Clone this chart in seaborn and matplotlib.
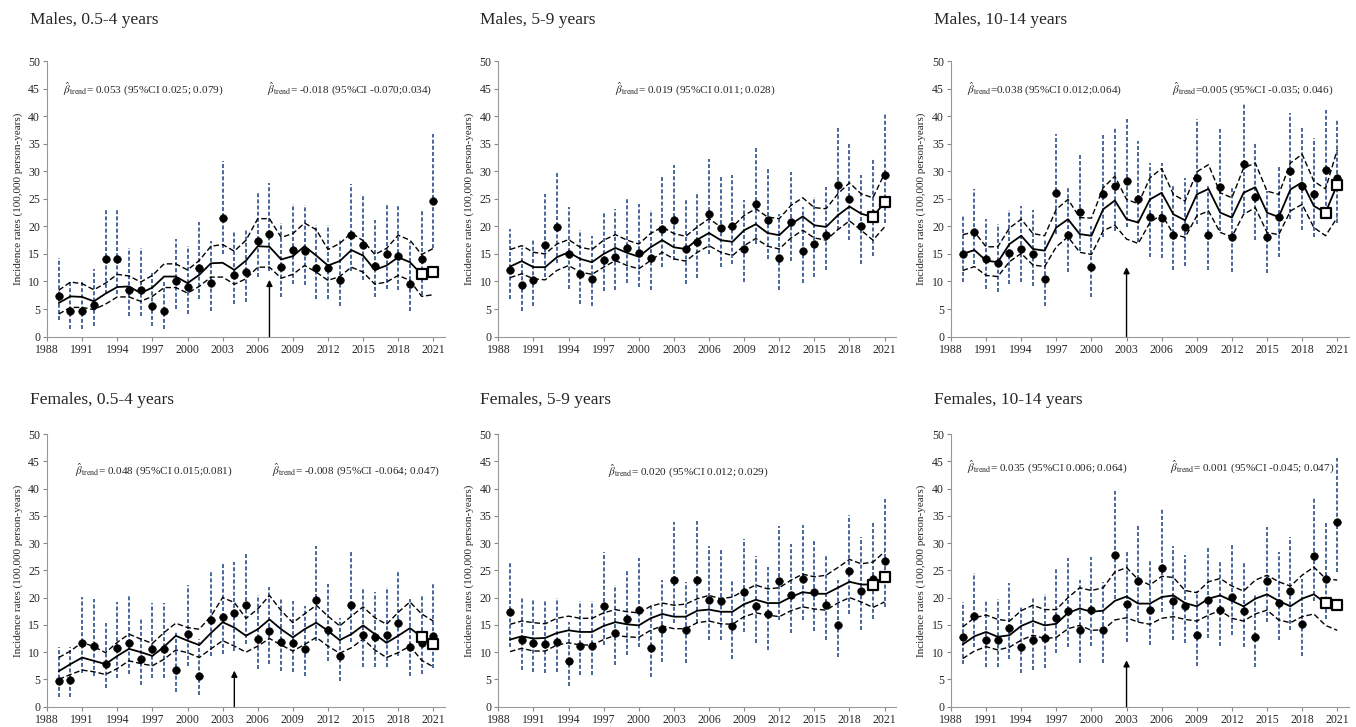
import numpy as np
import pandas as pd
import seaborn as sns
import matplotlib
matplotlib.use("Agg")
import matplotlib.pyplot as plt

years = list(range(1989, 2022))
xticks = list(range(1988, 2022, 3))

# ---- Males 0.5-4 years ----
m1_obs = [7.3, 4.6, 4.6, 5.8, 14.1, 14.0, 8.4, 8.4, 5.5, 4.6, 10.0, 9.0, 12.5, 9.7, 21.6, 11.1, 11.7,
          17.4, 18.7, 12.7, 15.7, 15.5, 12.4, 12.4, 10.2, 18.4, 16.6, 12.8, 15.0, 14.6, 9.6, 14.0, 24.6]
m1_lo = [3.0, 1.4, 1.4, 2.0, 7.8, 7.8, 3.8, 3.8, 2.0, 1.4, 5.0, 4.1, 6.9, 4.7, 15.0, 5.9, 6.3,
         10.8, 11.9, 7.2, 9.5, 9.4, 6.9, 6.9, 5.5, 11.9, 10.2, 7.2, 8.7, 8.4, 4.7, 7.5, 16.0]
m1_hi = [14.3, 10.3, 10.2, 12.3, 23.1, 23.1, 16.0, 16.0, 11.9, 10.3, 17.8, 16.4, 20.8, 17.4, 31.8, 19.0, 19.6,
         26.5, 27.9, 20.6, 24.0, 23.8, 20.2, 20.2, 17.5, 27.7, 25.5, 21.1, 24.0, 23.8, 17.2, 23.2, 36.7]
m1_fit = [6.1, 7.3, 7.2, 6.4, 7.8, 9.0, 9.1, 7.9, 8.9, 10.9, 10.9, 9.7, 11.2, 13.3, 13.4, 12.1, 13.8,
          16.4, 16.3, 14.0, 14.6, 16.4, 14.7, 12.9, 13.7, 15.7, 14.7, 12.1, 12.9, 14.4, 13.5, 11.3, 11.7]
m1_fit_hi = [8.4, 9.9, 9.6, 8.5, 9.7, 11.3, 11.0, 9.9, 11.1, 13.2, 13.2, 12.1, 13.8, 16.4, 16.7, 15.5, 17.5,
             21.4, 21.4, 18.0, 18.7, 20.6, 19.4, 15.8, 16.9, 18.8, 17.4, 14.9, 16.0, 18.4, 17.5, 14.9, 16.0]
m1_fit_lo = [4.1, 5.3, 5.3, 4.9, 5.9, 7.2, 7.2, 6.4, 7.3, 8.9, 8.9, 7.9, 9.1, 10.8, 10.8, 9.5, 10.5,
             12.6, 12.6, 10.6, 11.3, 12.9, 11.7, 10.2, 10.9, 12.6, 11.7, 9.5, 9.9, 11.1, 10.2, 7.3, 7.6]

# ---- Males 5-9 years ----
m2_obs = [12.1, 9.3, 10.2, 16.7, 19.9, 14.9, 11.4, 10.5, 13.9, 14.4, 16.1, 15.2, 14.3, 19.6, 21.1, 15.9, 17.2,
          22.3, 19.7, 20.0, 15.9, 24.1, 21.1, 14.2, 20.8, 15.5, 16.8, 18.4, 27.5, 25.0, 20.1, 22.3, 29.3]
m2_lo = [6.8, 4.7, 5.5, 10.9, 13.3, 8.6, 5.9, 5.5, 8.2, 8.5, 9.7, 9.0, 8.4, 12.6, 13.9, 9.5, 10.6,
         15.0, 12.6, 13.1, 9.9, 16.8, 14.1, 8.5, 13.8, 9.7, 10.8, 12.0, 19.3, 17.6, 13.2, 14.7, 20.6]
m2_hi = [19.5, 16.1, 17.5, 25.9, 29.7, 23.6, 19.4, 18.3, 22.6, 23.2, 25.2, 24.1, 23.0, 29.4, 31.1, 24.7, 26.2,
         32.3, 29.0, 29.3, 24.7, 34.3, 30.5, 22.3, 29.9, 23.6, 25.3, 27.2, 37.9, 34.9, 29.4, 32.3, 40.5]
m2_fit = [12.7, 13.7, 12.6, 12.6, 14.4, 15.3, 14.1, 13.5, 15.0, 16.1, 15.2, 14.5, 16.2, 17.5, 16.2, 15.9, 17.6,
          18.8, 17.5, 17.2, 19.3, 20.4, 18.8, 18.4, 20.4, 21.8, 20.2, 19.9, 22.0, 23.6, 22.3, 21.7, 24.4]
m2_fit_hi = [15.8, 16.5, 15.3, 15.0, 16.8, 17.6, 16.2, 15.8, 17.5, 18.5, 17.5, 16.8, 18.7, 19.9, 18.7, 18.2, 19.9,
             21.4, 19.9, 19.9, 22.0, 23.2, 21.7, 21.4, 23.8, 25.2, 23.4, 23.2, 25.9, 27.9, 25.9, 25.2, 29.6]
m2_fit_lo = [10.7, 11.4, 10.5, 10.3, 12.0, 12.9, 11.7, 11.3, 12.6, 13.8, 12.9, 12.3, 13.8, 15.3, 14.1, 13.7, 15.3,
             16.5, 15.3, 14.7, 16.5, 17.8, 16.4, 15.9, 17.9, 19.3, 17.9, 17.5, 19.4, 21.0, 19.3, 17.5, 19.9]

# ---- Males 10-14 years ----
m3_obs = [15.0, 18.9, 14.1, 13.4, 15.2, 15.9, 15.0, 10.5, 26.1, 18.4, 22.7, 12.6, 25.9, 27.3, 28.3, 25.0, 21.7,
          21.6, 18.4, 19.8, 28.8, 18.5, 27.1, 18.1, 31.4, 25.4, 18.0, 21.7, 30.0, 27.4, 25.9, 30.3, 28.8]
m3_lo = [9.9, 13.2, 8.7, 8.1, 9.6, 9.9, 9.2, 5.5, 18.6, 11.7, 15.5, 7.2, 18.0, 19.2, 19.9, 17.1, 14.4,
         14.3, 12.0, 12.9, 20.4, 12.0, 19.2, 11.7, 22.5, 17.5, 11.5, 14.5, 21.3, 19.4, 18.0, 21.6, 20.7]
m3_hi = [22.1, 26.7, 21.3, 20.5, 23.0, 23.7, 23.0, 17.7, 36.7, 27.1, 33.0, 20.1, 36.6, 38.1, 39.4, 35.5, 31.5,
         31.5, 27.3, 28.8, 39.5, 27.3, 37.7, 27.0, 42.3, 35.4, 26.4, 31.2, 40.5, 37.8, 36.0, 41.1, 39.3]
m3_fit = [15.0, 15.7, 13.8, 13.5, 16.8, 18.3, 15.9, 15.6, 19.8, 21.3, 18.6, 18.3, 23.1, 24.7, 21.3, 20.7, 24.9,
          26.1, 22.2, 21.1, 25.8, 26.8, 22.5, 21.6, 26.1, 27.1, 22.5, 21.7, 26.7, 28.0, 23.7, 22.5, 27.6]
m3_fit_hi = [18.5, 19.0, 16.3, 16.3, 19.7, 21.3, 18.7, 18.3, 23.1, 24.9, 21.6, 21.5, 27.0, 29.1, 24.9, 24.1, 28.8,
             30.5, 25.8, 24.6, 29.9, 31.2, 26.1, 25.2, 30.6, 31.5, 26.4, 25.8, 31.5, 33.1, 28.2, 26.8, 33.9]
m3_fit_lo = [12.0, 12.7, 11.1, 10.9, 13.6, 15.1, 13.0, 12.7, 16.3, 18.1, 15.3, 14.9, 19.2, 20.2, 17.7, 16.9, 20.7,
             22.2, 18.6, 18.0, 21.9, 22.8, 18.9, 18.1, 22.2, 23.4, 18.9, 18.5, 22.8, 24.0, 19.8, 18.3, 21.6]

# ---- Females 0.5-4 years ----
f1_obs = [4.7, 4.9, 11.6, 11.1, 7.9, 10.8, 11.6, 8.8, 10.6, 10.6, 6.7, 13.3, 5.6, 15.9, 16.5, 17.1, 18.6,
          12.4, 13.8, 11.9, 11.6, 10.6, 19.6, 14.1, 9.2, 18.7, 13.1, 12.7, 13.1, 15.4, 11.0, 11.6, 13.0]
f1_lo = [1.7, 1.7, 6.2, 5.6, 3.5, 5.3, 5.9, 3.9, 5.3, 5.3, 2.6, 7.5, 2.1, 9.3, 9.7, 10.2, 11.4,
         6.9, 7.9, 6.5, 6.4, 5.6, 12.1, 8.4, 4.7, 11.9, 7.3, 7.2, 7.3, 9.3, 5.6, 5.9, 7.0]
f1_hi = [11.0, 11.0, 20.2, 19.8, 15.4, 19.2, 20.3, 16.3, 19.0, 19.0, 13.9, 22.3, 12.4, 25.1, 26.1, 26.6, 28.3,
         20.5, 22.0, 20.0, 19.4, 18.5, 29.4, 22.5, 16.3, 28.3, 21.5, 21.1, 22.0, 25.1, 19.8, 20.5, 22.6]
f1_fit = [6.5, 7.8, 9.0, 8.4, 7.8, 9.3, 10.6, 10.0, 9.3, 11.0, 13.0, 12.1, 11.3, 13.5, 15.5, 14.5, 13.0,
          14.2, 16.0, 14.2, 12.7, 14.2, 15.4, 13.9, 12.2, 13.3, 14.9, 13.3, 11.7, 13.0, 14.4, 12.8, 11.4]
f1_fit_hi = [9.0, 10.2, 11.8, 11.0, 9.9, 11.8, 13.3, 12.4, 11.6, 13.6, 15.3, 14.5, 14.2, 16.6, 20.0, 19.1, 16.2,
             17.9, 20.4, 17.6, 15.4, 17.0, 18.6, 16.6, 14.8, 16.6, 18.3, 16.3, 15.1, 17.3, 19.2, 17.0, 15.7]
f1_fit_lo = [5.0, 5.9, 6.7, 6.4, 5.9, 7.0, 8.4, 7.9, 7.5, 8.7, 10.4, 9.9, 9.0, 10.6, 12.1, 11.1, 10.0,
             11.1, 12.5, 11.3, 10.2, 11.4, 12.7, 11.1, 9.8, 10.8, 12.4, 10.4, 9.0, 9.9, 11.1, 8.5, 7.3]

# ---- Females 5-9 years ----
f2_obs = [17.4, 12.2, 11.7, 11.4, 11.8, 8.4, 11.1, 11.1, 18.4, 13.5, 16.0, 17.7, 10.7, 14.3, 23.2, 14.1, 23.3,
          19.5, 19.3, 14.8, 21.0, 18.4, 17.0, 23.0, 20.4, 23.5, 21.0, 18.6, 14.9, 24.9, 21.3, 23.5, 26.7]
f2_lo = [10.9, 6.8, 6.4, 6.1, 6.4, 3.8, 5.8, 5.8, 11.3, 7.6, 9.5, 11.0, 5.5, 8.2, 15.4, 8.0, 15.4,
         12.3, 12.3, 8.8, 13.7, 11.7, 10.4, 15.9, 13.5, 15.9, 13.9, 12.2, 9.1, 17.0, 14.0, 16.0, 18.3]
f2_hi = [26.3, 20.0, 19.6, 19.4, 20.0, 15.5, 19.4, 19.4, 28.4, 22.3, 25.1, 27.3, 18.6, 23.2, 33.8, 22.9, 34.0,
         29.4, 29.0, 23.2, 30.8, 27.7, 25.7, 33.1, 29.9, 33.4, 30.5, 27.7, 23.3, 35.1, 31.2, 34.1, 38.1]
f2_fit = [12.3, 12.9, 12.5, 12.6, 13.5, 14.0, 13.7, 13.7, 14.8, 15.5, 15.1, 14.9, 16.2, 17.0, 16.5, 16.5, 17.6,
          17.8, 17.4, 17.4, 18.8, 19.6, 19.0, 19.0, 20.1, 21.0, 20.7, 20.7, 21.8, 22.9, 22.4, 22.4, 23.8]
f2_fit_hi = [15.1, 15.7, 15.4, 15.2, 16.2, 16.6, 16.2, 16.2, 17.2, 17.8, 17.4, 17.2, 18.4, 19.0, 18.6, 18.8, 19.8,
             20.4, 19.8, 20.1, 21.3, 22.3, 21.6, 21.8, 23.2, 24.3, 23.8, 24.1, 25.5, 27.0, 26.2, 26.5, 28.4]
f2_fit_lo = [10.1, 10.7, 10.2, 10.2, 11.3, 11.7, 11.3, 11.3, 12.3, 13.1, 12.8, 12.7, 14.0, 14.8, 14.3, 14.3, 15.4,
             15.7, 15.2, 15.1, 16.5, 17.2, 16.8, 16.5, 17.6, 18.3, 17.9, 17.7, 19.0, 20.0, 19.2, 18.2, 19.2]

# ---- Females 10-14 years ----
f3_obs = [12.7, 16.6, 12.3, 12.3, 14.5, 11.0, 12.2, 12.5, 16.2, 17.6, 14.1, 17.7, 14.1, 27.9, 18.8, 23.0, 17.8,
          25.5, 19.4, 18.5, 13.2, 19.6, 17.8, 20.1, 17.6, 12.7, 23.0, 19.1, 21.3, 15.1, 27.6, 23.5, 33.8]
f3_lo = [7.9, 10.9, 7.3, 7.2, 8.7, 6.1, 6.8, 7.0, 9.8, 10.9, 8.0, 11.1, 8.0, 19.8, 11.9, 15.5, 11.3,
         17.4, 12.3, 11.6, 7.4, 12.5, 11.1, 13.1, 11.0, 7.3, 15.5, 12.2, 14.1, 9.3, 19.4, 16.0, 24.7]
f3_hi = [19.2, 24.5, 19.5, 19.8, 22.6, 18.4, 20.1, 20.7, 25.3, 27.3, 23.2, 27.4, 22.9, 39.5, 28.5, 33.5, 27.0,
         36.5, 29.4, 27.9, 21.3, 29.3, 26.8, 29.6, 26.5, 20.7, 33.0, 28.4, 31.2, 23.5, 38.5, 33.7, 45.6]
f3_fit = [11.4, 12.9, 13.7, 12.8, 13.1, 14.8, 15.7, 14.9, 15.2, 17.2, 18.0, 17.4, 17.6, 19.4, 20.2, 18.9, 18.9,
          20.1, 20.4, 19.0, 18.4, 19.8, 20.4, 19.4, 18.4, 19.8, 20.6, 19.4, 18.4, 19.8, 20.6, 19.0, 18.7]
f3_fit_hi = [14.6, 16.3, 16.8, 16.0, 15.7, 17.6, 18.6, 17.8, 17.8, 20.0, 21.8, 21.3, 21.8, 24.7, 25.5, 23.3, 22.3,
             23.9, 23.7, 21.3, 20.9, 22.9, 23.5, 22.1, 21.2, 23.2, 24.1, 22.9, 22.1, 24.1, 25.6, 23.5, 23.2]
f3_fit_lo = [8.8, 10.2, 11.0, 10.4, 10.9, 12.2, 13.1, 12.5, 12.7, 14.3, 14.9, 14.0, 14.1, 15.9, 16.3, 15.5, 15.1,
             16.2, 16.5, 16.0, 15.7, 16.8, 17.6, 16.2, 15.7, 17.0, 17.7, 15.9, 15.4, 16.5, 17.0, 14.9, 14.0]

titles = ["Males, 0.5-4 years", "Males, 5-9 years", "Males, 10-14 years",
          "Females, 0.5-4 years", "Females, 5-9 years", "Females, 10-14 years"]

beta = r"$\hat{\beta}_{\mathrm{trend}}$"
notes = [
    [(1989.4, "= 0.053 (95%CI 0.025; 0.079)"), (2006.8, "= -0.018 (95%CI -0.070;0.034)")],
    [(1998.0, "= 0.019 (95%CI 0.011; 0.028)")],
    [(1989.4, "=0.038 (95%CI 0.012;0.064)"), (2006.9, "=0.005 (95%CI -0.035; 0.046)")],
    [(1990.4, "= 0.048 (95%CI 0.015;0.081)"), (2007.2, "= -0.008 (95%CI -0.064; 0.047)")],
    [(1997.4, "= 0.020 (95%CI 0.012; 0.029)")],
    [(1989.4, "= 0.035 (95%CI 0.006; 0.064)"), (2006.7, "= 0.001 (95%CI -0.045; 0.047)")],
]
note_y = [45, 45, 45, 43.5, 43.3, 44]

# change-point arrows (year, tip height); None = no change point
arrows = [(2007, 10.3), None, (2003, 12.6), (2004, 6.6), None, (2003, 8.5)]

panels = [
    (m1_obs, m1_lo, m1_hi, m1_fit, m1_fit_lo, m1_fit_hi),
    (m2_obs, m2_lo, m2_hi, m2_fit, m2_fit_lo, m2_fit_hi),
    (m3_obs, m3_lo, m3_hi, m3_fit, m3_fit_lo, m3_fit_hi),
    (f1_obs, f1_lo, f1_hi, f1_fit, f1_fit_lo, f1_fit_hi),
    (f2_obs, f2_lo, f2_hi, f2_fit, f2_fit_lo, f2_fit_hi),
    (f3_obs, f3_lo, f3_hi, f3_fit, f3_fit_lo, f3_fit_hi),
]

sns.set_style("ticks")
plt.rcParams["font.family"] = ["Liberation Serif", "DejaVu Serif"]
plt.rcParams["mathtext.fontset"] = "stix"

fig = plt.figure(figsize=(13.56, 7.27), dpi=100)

lefts = [0.0347, 0.3675, 0.7013]
rows = [(0.537, 0.916), (0.028, 0.403)]
title_x = [0.022, 0.354, 0.689]
title_y = [0.972, 0.450]

for i, (obs, lo, hi, fit, flo, fhi) in enumerate(panels):
    r, c = divmod(i, 3)
    b, t = rows[r]
    ax = fig.add_axes([lefts[c], b, 0.2935, t - b])
    df = pd.DataFrame({"year": years, "obs": obs, "lo": lo, "hi": hi,
                       "fit": fit, "flo": flo, "fhi": fhi})

    ax.vlines(df["year"], df["lo"], df["hi"], colors="#3a5a94",
              linestyles=(0, (2.2, 1.2)), linewidth=1.3, zorder=1)
    sns.lineplot(data=df, x="year", y="fhi", ax=ax, color="black", lw=1.0,
                 linestyle=(0, (4, 2)), zorder=2)
    sns.lineplot(data=df, x="year", y="flo", ax=ax, color="black", lw=1.0,
                 linestyle=(0, (4, 2)), zorder=2)
    sns.lineplot(data=df, x="year", y="fit", ax=ax, color="black", lw=1.3, zorder=3)
    sns.scatterplot(data=df, x="year", y="obs", ax=ax, color="black", s=30,
                    edgecolor="black", zorder=4)
    sns.scatterplot(data=df.tail(2), x="year", y="fit", ax=ax, marker="s", s=60,
                    facecolor="white", edgecolor="black", linewidth=1.6, zorder=5)

    if arrows[i] is not None:
        ax_year, tip = arrows[i]
        ax.annotate("", xy=(ax_year, tip), xytext=(ax_year, 0),
                    arrowprops=dict(arrowstyle="-|>", color="black", lw=1.0,
                                    mutation_scale=9, shrinkA=0, shrinkB=0))

    for x0, txt in notes[i]:
        ax.text(x0, note_y[i], beta + txt, fontsize=8.1, va="center", ha="left")

    ax.set_xlim(1988, 2022)
    ax.set_ylim(0, 50)
    ax.set_xticks(xticks)
    ax.set_yticks(range(0, 51, 5))
    ax.tick_params(labelsize=8.5, length=3, width=0.8, color="#888888", pad=2)
    ax.set_xlabel("")
    ax.set_ylabel("Incidence rates (100,000 person-years)", fontsize=8)
    ax.yaxis.labelpad = 4
    for s in ["top", "right"]:
        ax.spines[s].set_visible(False)
    for s in ["left", "bottom"]:
        ax.spines[s].set_color("#999999")
        ax.spines[s].set_linewidth(0.8)

    fig.text(title_x[c], title_y[r], titles[i], fontsize=12.5, ha="left", va="center")

fig.savefig("out.png", dpi=100)
